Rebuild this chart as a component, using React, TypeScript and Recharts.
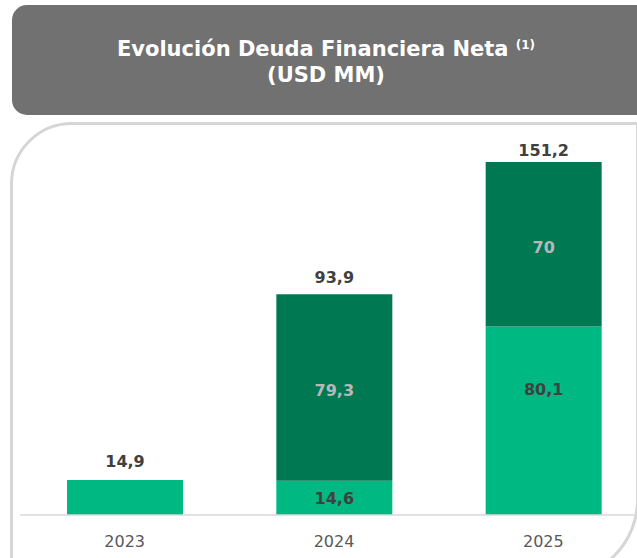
import React from 'react';
import { BarChart, Bar, XAxis, YAxis, LabelList } from 'recharts';

const years = ['2023', '2024', '2025'];
const lightValues = [14.9, 14.6, 80.1];
const darkValues = [0, 79.3, 70];
const totals = [14.9, 93.9, 151.2];

const FONT = "'DejaVu Sans', Verdana, sans-serif";
const LIGHT = '#00B882';
const DARK = '#007852';

const fmt = (v: number) => String(v).replace('.', ',');

const chartData = years.map((year, i) => ({
  year,
  light: lightValues[i],
  dark: darkValues[i],
  total: totals[i],
}));

// small nudges so labels sit where the original puts them
const totalGap = [13, 11, 6];
const lightShift = [0, 0, -32];

// total sits above the whole stack; drawn from the light bar so 2023 gets one too
const TotalLabel = (props: any) => {
  const { x, y, width, height, index } = props;
  const perUnit = height / lightValues[index];
  const top = y - darkValues[index] * perUnit;
  return (
    <text
      x={x + width / 2}
      y={top - totalGap[index]}
      textAnchor="middle"
      fill="#404040"
      fontSize={16}
      fontWeight="bold"
      fontFamily={FONT}
    >
      {fmt(totals[index])}
    </text>
  );
};

const LightLabel = (props: any) => {
  const { x, y, width, height, index } = props;
  if (!darkValues[index]) return null;
  return (
    <text
      x={x + width / 2}
      y={y + height / 2 + 6 + lightShift[index]}
      textAnchor="middle"
      fill="#404040"
      fontSize={16}
      fontWeight="bold"
      fontFamily={FONT}
    >
      {fmt(lightValues[index])}
    </text>
  );
};

const DarkLabel = (props: any) => {
  const { x, y, width, height, value } = props;
  if (!value) return null;
  return (
    <text
      x={x + width / 2}
      y={y + height / 2 + 9}
      textAnchor="middle"
      fill="#B8B8B8"
      fontSize={16}
      fontWeight="bold"
      fontFamily={FONT}
    >
      {fmt(value)}
    </text>
  );
};

export default function App() {
  return (
    <div
      style={{
        position: 'absolute',
        left: 0,
        top: 0,
        width: 637,
        height: 558,
        overflow: 'hidden',
        background: '#fff',
        fontFamily: FONT,
      }}
    >
      <div
        style={{
          position: 'absolute',
          left: 12,
          top: 5,
          width: 650,
          height: 110,
          background: '#717171',
          borderRadius: 15,
          color: '#fff',
          fontWeight: 'bold',
          fontSize: 21,
          textAlign: 'center',
          boxSizing: 'border-box',
          paddingTop: 27,
          lineHeight: '26px',
        }}
      >
        <div style={{ width: 628 }}>
          Evolución Deuda Financiera Neta <span style={{ fontSize: 12, verticalAlign: 7 }}>(1)</span>
        </div>
        <div style={{ width: 628 }}>(USD MM)</div>
      </div>

      <div
        style={{
          position: 'absolute',
          left: 10,
          top: 122,
          width: 629,
          height: 458,
          border: '3px solid #D6D6D6',
          borderRadius: '62px 0 80px 0',
          boxSizing: 'border-box',
        }}
      />

      <div style={{ position: 'absolute', left: 0, top: 0 }}>
        <BarChart
          width={648}
          height={558}
          data={chartData}
          margin={{ top: 141, right: 0, bottom: 0, left: 20 }}
          barSize={116}
        >
          <XAxis
            dataKey="year"
            height={43}
            axisLine={{ stroke: '#D9D9D9', strokeWidth: 1.5 }}
            tickLine={false}
            tickMargin={15}
            tick={{ fill: '#595959', fontSize: 16, fontFamily: FONT }}
          />
          <YAxis hide domain={[0, 159]} />
          <Bar dataKey="light" stackId="a" fill={LIGHT} isAnimationActive={false}>
            <LabelList dataKey="light" content={LightLabel} />
            <LabelList dataKey="total" content={TotalLabel} />
          </Bar>
          <Bar dataKey="dark" stackId="a" fill={DARK} isAnimationActive={false}>
            <LabelList dataKey="dark" content={DarkLabel} />
          </Bar>
        </BarChart>
      </div>
    </div>
  );
}
